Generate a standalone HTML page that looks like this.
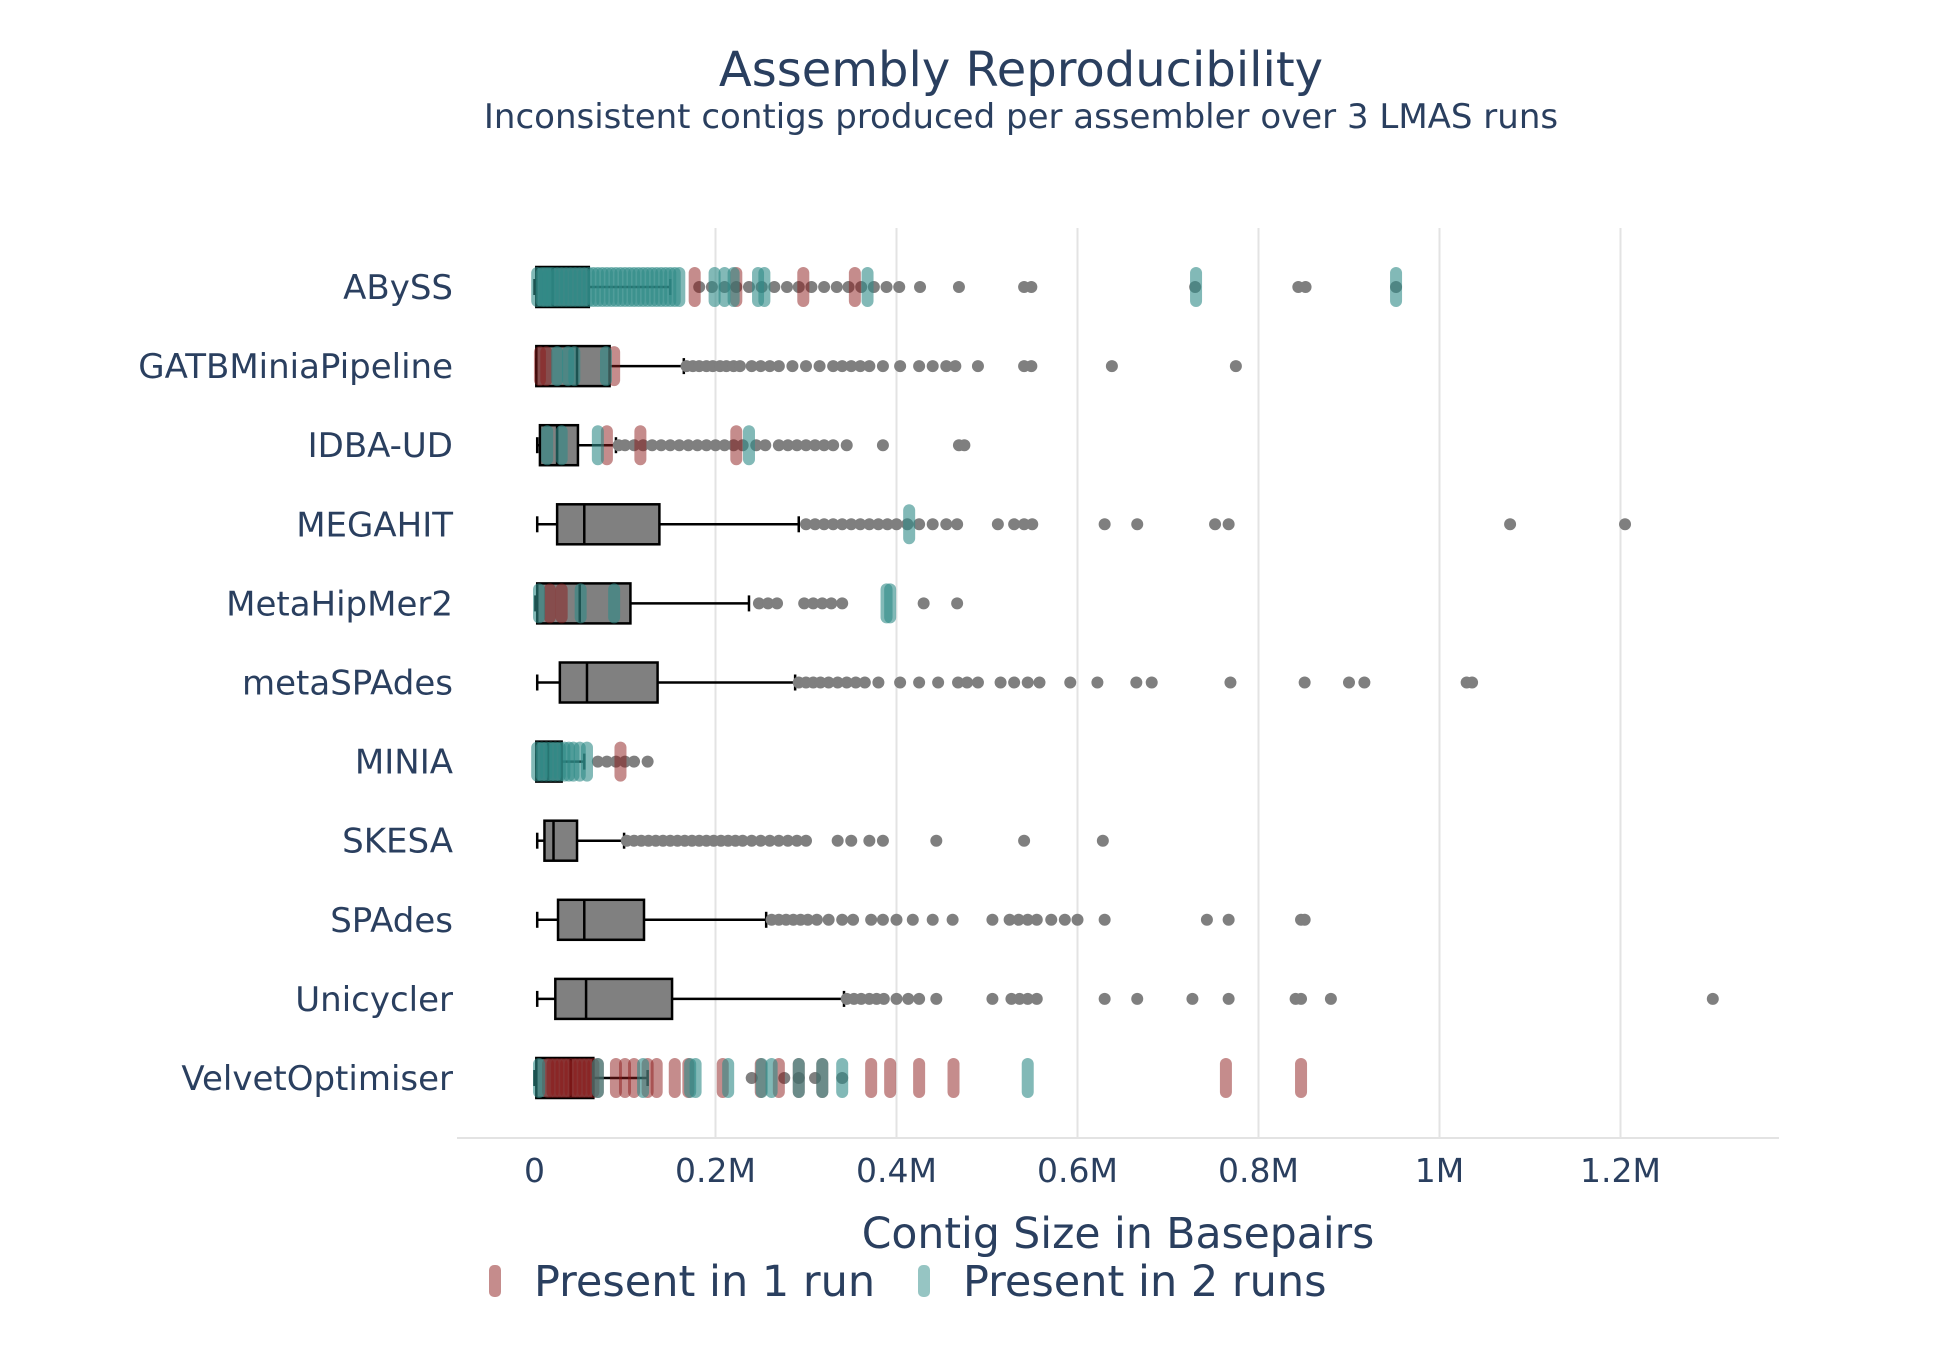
<!DOCTYPE html>
<html><head><meta charset="utf-8"><style>
html,body{margin:0;padding:0;background:#fff;}
svg{display:block;font-family:"DejaVu Sans","Liberation Sans",sans-serif;}
</style></head><body>
<svg id="chart" width="1957" height="1350" viewBox="0 0 1957 1350" xmlns="http://www.w3.org/2000/svg">
<text x="1021" y="86" text-anchor="middle" font-size="48" fill="#2a3f5f">Assembly Reproducibility</text>
<text x="1021" y="128" text-anchor="middle" font-size="34" fill="#2a3f5f">Inconsistent contigs produced per assembler over 3 LMAS runs</text>
<g id="grid"></g><g id="marks"></g><g id="ylabels"></g><g id="xticks"></g>
<text x="1118" y="1248" text-anchor="middle" font-size="42.5" fill="#2a3f5f">Contig Size in Basepairs</text>
<g>
<g>
<rect x="489" y="1265" width="12" height="32" rx="5" fill="#8b1a1a" opacity="0.5"></rect>
<text x="534" y="1296" font-size="43" fill="#2a3f5f">Present in 1 run</text></g>
<g>
<rect x="918" y="1265" width="12" height="32" rx="5" fill="#2e8b87" opacity="0.5"></rect>
<text x="963" y="1296" font-size="43" fill="#2a3f5f">Present in 2 runs</text></g>
</g>
</svg>
<script>
// values in thousands of basepairs
const assemblers = ["ABySS","GATBMiniaPipeline","IDBA-UD","MEGAHIT","MetaHipMer2","metaSPAdes","MINIA","SKESA","SPAdes","Unicycler","VelvetOptimiser"];
const boxMin = [0,2,3,3,1,3,2,3,3,3,0];
const boxQ1 = [2,2,6,25,3,28,2,11,26,23,2];
const boxMed = [20,47,25,55,50,58,15,21,55,57,40];
const boxQ3 = [60,83,48,138,106,136,30,47,121,152,65];
const boxMax = [150,165,90,292,237,288,55,99,256,342,125];
const outliers = [
 [182,196,210,223,237,251,265,279,292,306,320,334,347,361,375,389,403,426,469,541,549,730,844,852,952],
 [168,175,182,190,197,205,212,220,227,240,250,260,270,285,300,315,330,340,350,360,370,385,404,425,440,455,465,490,541,549,638,775],
 [93,100,110,120,130,140,150,160,170,180,190,200,210,220,230,245,255,270,280,290,300,310,320,330,345,385,469,475],
 [300,310,320,330,340,350,360,370,380,390,400,412,425,440,455,467,512,530,541,550,630,666,752,767,1078,1205],
 [248,258,268,298,308,318,328,340,430,467],
 [292,300,308,316,325,335,345,355,365,380,404,425,446,468,478,490,515,530,545,558,592,622,665,682,769,851,900,917,1030,1036],
 [70,80,90,100,110,125],
 [102,110,118,126,134,142,150,158,166,174,182,190,198,206,214,222,230,240,250,260,270,280,290,300,335,350,370,385,444,541,628],
 [262,270,278,286,294,302,312,325,340,352,372,385,400,418,440,462,506,525,535,545,555,571,586,600,630,743,767,847,851],
 [345,353,361,370,378,386,400,413,425,444,506,527,536,545,555,630,666,727,767,841,847,880,1302],
 [240,276,292,310,340]
];
const run1 = [
 [177,223,297,354],
 [6,13,88],
 [80,117,223],
 [],
 [17,30],
 [],
 [95],
 [],
 [],
 [],
 [15,20,25,30,35,40,45,50,55,60,65,70,90,100,110,125,135,155,170,208,250,270,292,318,372,393,425,463,764,847]
];
const run2 = [
 [3,8,12,16,20,25,30,35,40,45,50,55,60,65,70,75,80,85,90,95,100,105,110,115,120,125,130,135,140,145,150,155,160,199,210,220,247,254,368,731,952],
 [25,37,44,79],
 [14,30,70,237],
 [414],
 [5,51,88,389,393],
 [],
 [3,8,13,18,23,28,33,38,43,50,58],
 [],
 [],
 [],
 [5,70,120,172,178,214,251,262,292,318,340,545]
];
const xTicks = [0,200,400,600,800,1000,1200];
const xTickLabels = ["0","0.2M","0.4M","0.6M","0.8M","1M","1.2M"];

const NS = "http://www.w3.org/2000/svg";
const X = v => 534.5 + v * 0.905;
const Y = i => 287 + i * 79.1;
function mk(tag, attrs, parent){const e=document.createElementNS(NS,tag);for(const k in attrs)e.setAttribute(k,attrs[k]);parent.appendChild(e);return e;}
const grid=document.getElementById('grid'), marks=document.getElementById('marks'), yl=document.getElementById('ylabels'), xt=document.getElementById('xticks');
xTicks.forEach((t,j)=>{
  if(t>0){const g=mk('line',{x1:X(t),x2:X(t),y1:228,y2:1138,stroke:'#e3e3e3','stroke-width':2},grid);
  
  }
  const tx=mk('text',{x:X(t),y:1182,'text-anchor':'middle','font-size':33,fill:'#2a3f5f'},xt);
  tx.textContent=xTickLabels[j];
  
  
});
const ax=mk('line',{x1:457,x2:1779,y1:1138,y2:1138,stroke:'#e3e3e3','stroke-width':2},grid);


assemblers.forEach((name,i)=>{
  const y=Y(i);
  const lb=mk('text',{x:453,y:y+12,'text-anchor':'end','font-size':34,fill:'#2a3f5f'},yl);
  lb.textContent=name;
  
  
  const g=mk('g',{},marks);
  
  
  mk('line',{x1:X(boxMin[i]),x2:X(boxQ1[i]),y1:y,y2:y,stroke:'#000','stroke-width':2.5},g);
  mk('line',{x1:X(boxQ3[i]),x2:X(boxMax[i]),y1:y,y2:y,stroke:'#000','stroke-width':2.5},g);
  mk('line',{x1:X(boxMin[i]),x2:X(boxMin[i]),y1:y-8,y2:y+8,stroke:'#000','stroke-width':2.5},g);
  mk('line',{x1:X(boxMax[i]),x2:X(boxMax[i]),y1:y-8,y2:y+8,stroke:'#000','stroke-width':2.5},g);
  mk('rect',{x:X(boxQ1[i]),y:y-20,width:X(boxQ3[i])-X(boxQ1[i]),height:40,fill:'#808080',stroke:'#000','stroke-width':2.5},g);
  mk('line',{x1:X(boxMed[i]),x2:X(boxMed[i]),y1:y-20,y2:y+20,stroke:'#000','stroke-width':2.5},g);
  outliers[i].forEach(v=>{
    const c=mk('circle',{cx:X(v),cy:y,r:6,fill:'#7f7f7f'},marks);
    
    
  });
  run1[i].forEach(v=>{
    const r=mk('rect',{x:X(v)-6,y:y-20,width:12,height:40,rx:6,fill:'#8b1a1a',opacity:0.5},marks);
    
    
  });
  run2[i].forEach(v=>{
    const r=mk('rect',{x:X(v)-6,y:y-20,width:12,height:40,rx:6,fill:'#2e8b87',opacity:0.6},marks);
    
    
  });
});
</script>
</body></html>
